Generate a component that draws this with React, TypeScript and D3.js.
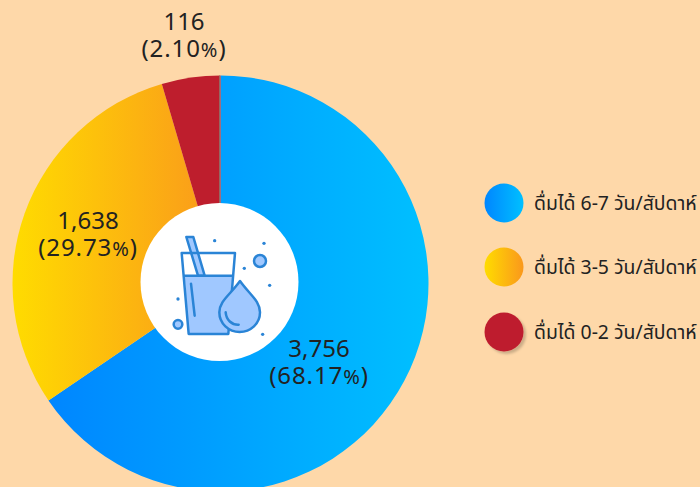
import React from "react";
import * as d3 from "d3";

const categories = ["ดื่มได้ 6-7 วัน/สัปดาห์", "ดื่มได้ 3-5 วัน/สัปดาห์", "ดื่มได้ 0-2 วัน/สัปดาห์"];
const counts = ["3,756", "1,638", "116"];
const percents = ["(68.17", "(29.73", "(2.10"];
const drawnShares = [65.5, 29.95, 4.55];
const gradientStops = [["#0086ff", "#00c0ff"], ["#ffdc00", "#fa981c"], ["#be1e2d", "#be1e2d"]];

const W = 700, H = 487, cx = 220.5, cy = 283.5, R = 208, r0 = 79;
const FONT = "'Noto Sans', 'Noto Sans Thai', 'DejaVu Sans', sans-serif";
const labelPos = [[319, 357], [88, 229], [184, 30]];
const legendY = [203, 267, 332];

export default function App() {
  const pie = d3.pie<number>().sort(null).value(d => d)(drawnShares);
  const arc = d3.arc<d3.PieArcDatum<number>>().innerRadius(0).outerRadius(R);
  return (
    <svg width={W} height={H} viewBox={`0 0 ${W} ${H}`} style={{ position: "fixed", left: 0, top: 0, background: "#fed8a9" }} fontFamily={FONT}>
      <defs>
        {gradientStops.map((s, i) => (
          <React.Fragment key={i}>
            <linearGradient id={`pg${i}`} gradientUnits="objectBoundingBox" x1="0" x2="1" y1="0" y2="0">
              <stop offset="0" stopColor={s[0]} /><stop offset="1" stopColor={s[1]} />
            </linearGradient>
          </React.Fragment>
        ))}
        <filter id="sh" x="-20%" y="-20%" width="150%" height="150%">
          <feDropShadow dx="2.5" dy="2.5" stdDeviation="1" floodColor="#000" floodOpacity="0.2" />
        </filter>
      </defs>
      <g transform={`translate(${cx},${cy})`}>
        {pie.map((d, i) => <path key={i} d={arc(d) || ""} fill={`url(#pg${i})`} />)}
        <line x1={-1} x2={-1} y1={-R} y2={-r0} stroke="#8a7a70" strokeWidth={0.8} />
      </g>
      <circle cx={219.5} cy={282} r={r0} fill="#fff" />
      <g transform="translate(130,195) scale(0.33333)" stroke="#2a84d6" strokeWidth={7.5} fill="none" strokeLinejoin="round">
        <path d="M164 242 H307 L295 417 H176 Z" fill="#a0c8ff" stroke="none" />
        <path d="M169 126 H190 L224 242 H204 Z" fill="#a0c8ff" />
        <path d="M155 174 H315 L295 417 H176 Z" />
        <path d="M162 242 H308" />
        <path d="M183 266 L194 362" strokeLinecap="round" />
        <path d="M330 258 C300 300 268 318 268 352 C268 386 296 411 329 411 C362 411 390 386 390 352 C390 318 360 300 330 258 Z" fill="#a0c8ff" />
        <path d="M287 352 C289 375 305 390 326 389" strokeLinecap="round" />
        <circle cx={390} cy={198} r={18} fill="#a0c8ff" />
        <circle cx={144} cy={388} r={13} fill="#a0c8ff" />
        <g fill="#2a84d6" stroke="none">
          <circle cx={254} cy={137} r={5} />
          <circle cx={402} cy={145} r={5} />
          <circle cx={343} cy={220} r={5} />
          <circle cx={419} cy={271} r={5} />
          <circle cx={144} cy={312} r={5} />
          <circle cx={398} cy={418} r={5} />
        </g>
      </g>
      {counts.map((c, i) => (
        <text key={i} textAnchor="middle" fill="#222" fontSize={24}>
          <tspan x={labelPos[i][0]} y={labelPos[i][1]}>{c}</tspan>
          <tspan x={labelPos[i][0]} y={labelPos[i][1] + 26.5} letterSpacing={0.9}>{percents[i]}<tspan fontSize={20}>%</tspan>)</tspan>
        </text>
      ))}
      {categories.map((c, i) => (
        <g key={i}>
          <circle cx={504} cy={legendY[i]} r={19.5} fill={`url(#pg${i})`} filter={i === 2 ? "url(#sh)" : undefined} />
          <text x={534} y={legendY[i] + 7} fontSize={19.4} fill="#222">{c}</text>
        </g>
      ))}
    </svg>
  );
}
